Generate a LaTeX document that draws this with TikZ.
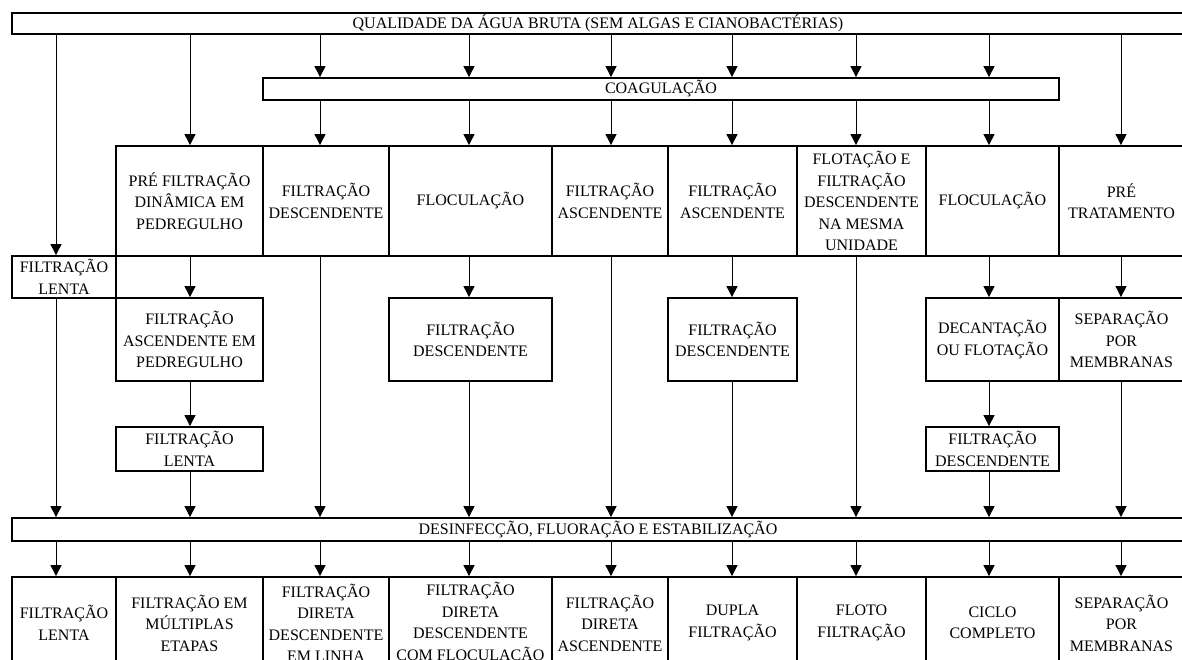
\documentclass[tikz,border=0pt]{standalone}
\usepackage{fontspec}
\setmainfont{Liberation Serif}
\usepackage{tikz}
\usetikzlibrary{arrows.meta}
\tikzstyle{box}=[draw=black, line width=1.8pt, inner sep=0pt, align=center, font=\fontsize{16}{21.5}\selectfont]
\tikzstyle{bar}=[box, minimum height=22pt]
\tikzstyle{arrow}=[draw=black, line width=0.9pt, >={Triangle[width=11pt,length=11pt]}, ->]

\begin{document}
\begin{tikzpicture}[x=1pt, y=-1pt]
		   \useasboundingbox (0,0) rectangle (1182,659);
		   \begin{scope}
			   % column lines
			   \coordinate (c1) at (56, 0);
			   \coordinate (c2) at (190, 0);
			   \coordinate (c3) at (320, 0);
			   \coordinate (c4) at (469, 0);
			   \coordinate (c5) at (611, 0);
			   \coordinate (c6) at (732, 0);
			   \coordinate (c7) at (856, 0);
			   \coordinate (c8) at (989, 0);
			   \coordinate (c9) at (1121, 0);

			   \node (qual) at (598, 23.5)[bar, minimum width=1172pt, minimum height=21pt] {QUALIDADE DA ÁGUA BRUTA (SEM ALGAS E CIANOBACTÉRIAS)};
			   \node (coag) at (661, 89)[bar, minimum width=796pt] {COAGULAÇÃO};

			   \node (pfd) at (189.5, 201)[box, minimum width=147pt, minimum height=110pt] {PRÉ FILTRAÇÃO\\DINÂMICA EM\\PEDREGULHO};
			   \node (fdesc) at (326, 201)[box, minimum width=126pt, minimum height=110pt] {FILTRAÇÃO\\DESCENDENTE};
			   \node (floc) at (470.5, 201)[box, minimum width=163pt, minimum height=110pt] {FLOCULAÇÃO};
			   \node (fasc) at (610, 201)[box, minimum width=116pt, minimum height=110pt] {FILTRAÇÃO\\ASCENDENTE};
			   \node (fasc2) at (732.5, 201)[box, minimum width=129pt, minimum height=110pt] {FILTRAÇÃO\\ASCENDENTE};
			   \node (flot) at (861.5, 201)[box, minimum width=129pt, minimum height=110pt] {FLOTAÇÃO E\\FILTRAÇÃO\\DESCENDENTE\\NA MESMA\\UNIDADE};
			   \node (floc2) at (992.5, 201)[box, minimum width=133pt, minimum height=110pt] {FLOCULAÇÃO};
			   \node (pret) at (1121.5, 201)[box, minimum width=125pt, minimum height=110pt] {PRÉ\\TRATAMENTO};

			   \node (flenta) at (64, 277)[box, minimum width=104pt, minimum height=42pt] {FILTRAÇÃO\\LENTA};

			   \node (fasp) at (189.5, 339.5)[box, minimum width=147pt, minimum height=83pt] {FILTRAÇÃO\\ASCENDENTE EM\\PEDREGULHO};
			   \node (fdesc2) at (470.5, 339.5)[box, minimum width=163pt, minimum height=83pt] {FILTRAÇÃO\\DESCENDENTE};
			   \node (fdesc3) at (732.5, 339.5)[box, minimum width=129pt, minimum height=83pt] {FILTRAÇÃO\\DESCENDENTE};
			   \node (decant) at (992.5, 339.5)[box, minimum width=133pt, minimum height=83pt] {DECANTAÇÃO\\OU FLOTAÇÃO};
			   \node (sepm) at (1121.5, 339.5)[box, minimum width=125pt, minimum height=83pt] {SEPARAÇÃO\\POR\\MEMBRANAS};

			   \node (flenta2) at (189.5, 449)[box, minimum width=147pt, minimum height=44pt] {FILTRAÇÃO\\LENTA};
			   \node (fdesc4) at (992.5, 449)[box, minimum width=133pt, minimum height=44pt] {FILTRAÇÃO\\DESCENDENTE};

			   \node (desinf) at (598, 529.5)[bar, minimum width=1172pt, minimum height=23pt] {DESINFECÇÃO, FLUORAÇÃO E ESTABILIZAÇÃO};

			   \node (t1) at (64, 623)[box, minimum width=104pt, minimum height=92pt] {FILTRAÇÃO\\LENTA};
			   \node (t2) at (189.5, 623)[box, minimum width=147pt, minimum height=92pt] {FILTRAÇÃO EM\\MÚLTIPLAS\\ETAPAS};
			   \node (t3) at (326, 623)[box, minimum width=126pt, minimum height=92pt] {FILTRAÇÃO\\DIRETA\\DESCENDENTE\\EM LINHA};
			   \node (t4) at (470.5, 623)[box, minimum width=163pt, minimum height=92pt] {FILTRAÇÃO\\DIRETA\\DESCENDENTE\\COM FLOCULAÇÃO};
			   \node (t5) at (610, 623)[box, minimum width=116pt, minimum height=92pt] {FILTRAÇÃO\\DIRETA\\ASCENDENTE};
			   \node (t6) at (732.5, 623)[box, minimum width=129pt, minimum height=92pt] {DUPLA\\FILTRAÇÃO};
			   \node (t7) at (861.5, 623)[box, minimum width=129pt, minimum height=92pt] {FLOTO\\FILTRAÇÃO};
			   \node (t8) at (992.5, 623)[box, minimum width=133pt, minimum height=92pt] {CICLO\\COMPLETO};
			   \node (t9) at (1121.5, 623)[box, minimum width=125pt, minimum height=92pt] {SEPARAÇÃO\\POR\\MEMBRANAS};
		   \end{scope}
		   \begin{scope}
			   \draw [arrow] (qual.south -| c1) -- (flenta.north -| c1);
			   \draw [arrow] (qual.south -| c2) -- (pfd.north -| c2);
			   \draw [arrow] (qual.south -| c3) -- (coag.north -| c3);
			   \draw [arrow] (qual.south -| c4) -- (coag.north -| c4);
			   \draw [arrow] (qual.south -| c5) -- (coag.north -| c5);
			   \draw [arrow] (qual.south -| c6) -- (coag.north -| c6);
			   \draw [arrow] (qual.south -| c7) -- (coag.north -| c7);
			   \draw [arrow] (qual.south -| c8) -- (coag.north -| c8);
			   \draw [arrow] (qual.south -| c9) -- (pret.north -| c9);

			   \draw [arrow] (coag.south -| c3) -- (fdesc.north -| c3);
			   \draw [arrow] (coag.south -| c4) -- (floc.north -| c4);
			   \draw [arrow] (coag.south -| c5) -- (fasc.north -| c5);
			   \draw [arrow] (coag.south -| c6) -- (fasc2.north -| c6);
			   \draw [arrow] (coag.south -| c7) -- (flot.north -| c7);
			   \draw [arrow] (coag.south -| c8) -- (floc2.north -| c8);

			   \draw [arrow] (pfd.south -| c2) -- (fasp.north -| c2);
			   \draw [arrow] (fasp.south -| c2) -- (flenta2.north -| c2);
			   \draw [arrow] (floc.south -| c4) -- (fdesc2.north -| c4);
			   \draw [arrow] (fasc2.south -| c6) -- (fdesc3.north -| c6);
			   \draw [arrow] (floc2.south -| c8) -- (decant.north -| c8);
			   \draw [arrow] (decant.south -| c8) -- (fdesc4.north -| c8);
			   \draw [arrow] (pret.south -| c9) -- (sepm.north -| c9);

			   \draw [arrow] (flenta.south -| c1) -- (desinf.north -| c1);
			   \draw [arrow] (flenta2.south -| c2) -- (desinf.north -| c2);
			   \draw [arrow] (fdesc.south -| c3) -- (desinf.north -| c3);
			   \draw [arrow] (fdesc2.south -| c4) -- (desinf.north -| c4);
			   \draw [arrow] (fasc.south -| c5) -- (desinf.north -| c5);
			   \draw [arrow] (fdesc3.south -| c6) -- (desinf.north -| c6);
			   \draw [arrow] (flot.south -| c7) -- (desinf.north -| c7);
			   \draw [arrow] (fdesc4.south -| c8) -- (desinf.north -| c8);
			   \draw [arrow] (sepm.south -| c9) -- (desinf.north -| c9);

			   \draw [arrow] (desinf.south -| c1) -- (t1.north -| c1);
			   \draw [arrow] (desinf.south -| c2) -- (t2.north -| c2);
			   \draw [arrow] (desinf.south -| c3) -- (t3.north -| c3);
			   \draw [arrow] (desinf.south -| c4) -- (t4.north -| c4);
			   \draw [arrow] (desinf.south -| c5) -- (t5.north -| c5);
			   \draw [arrow] (desinf.south -| c6) -- (t6.north -| c6);
			   \draw [arrow] (desinf.south -| c7) -- (t7.north -| c7);
			   \draw [arrow] (desinf.south -| c8) -- (t8.north -| c8);
			   \draw [arrow] (desinf.south -| c9) -- (t9.north -| c9);
		   \end{scope}
\end{tikzpicture}
\end{document}
